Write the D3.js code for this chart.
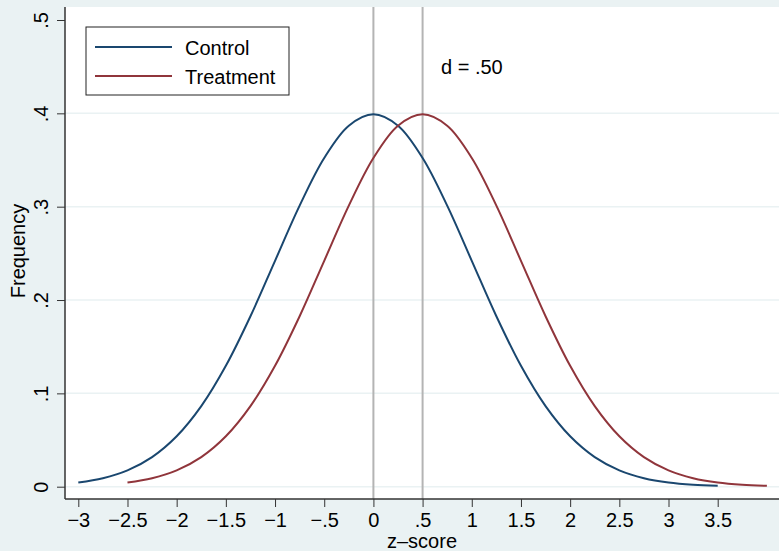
<!DOCTYPE html>
<html>
<head>
<meta charset="utf-8">
<script src="https://cdn.jsdelivr.net/npm/d3@7"></script>
<style>
  body { margin: 0; background: #eaf2f3; }
  svg { display: block; font-family: "Liberation Sans", Arial, sans-serif; }
</style>
</head>
<body>
<div id="chart"></div>
<script>
// values (normal curves, step .25)
var controlX = [-3, -2.75, -2.5, -2.25, -2, -1.75, -1.5, -1.25, -1, -0.75, -0.5, -0.25, 0,
  0.25, 0.5, 0.75, 1, 1.25, 1.5, 1.75, 2, 2.25, 2.5, 2.75, 3, 3.25, 3.5];
var controlY = [0.0044, 0.0091, 0.0175, 0.0317, 0.0540, 0.0863, 0.1295, 0.1826, 0.2420, 0.3011, 0.3521, 0.3867, 0.3989,
  0.3867, 0.3521, 0.3011, 0.2420, 0.1826, 0.1295, 0.0863, 0.0540, 0.0317, 0.0175, 0.0091, 0.0044, 0.0020, 0.0009];
var treatX = [-2.5, -2.25, -2, -1.75, -1.5, -1.25, -1, -0.75, -0.5, -0.25, 0, 0.25, 0.5,
  0.75, 1, 1.25, 1.5, 1.75, 2, 2.25, 2.5, 2.75, 3, 3.25, 3.5, 3.75, 4];
var treatY = [0.0044, 0.0091, 0.0175, 0.0317, 0.0540, 0.0863, 0.1295, 0.1826, 0.2420, 0.3011, 0.3521, 0.3867, 0.3989,
  0.3867, 0.3521, 0.3011, 0.2420, 0.1826, 0.1295, 0.0863, 0.0540, 0.0317, 0.0175, 0.0091, 0.0044, 0.0020, 0.0009];

var xTicks = [-3, -2.5, -2, -1.5, -1, -0.5, 0, 0.5, 1, 1.5, 2, 2.5, 3, 3.5];
var xTickLabels = ["\u22123", "\u22122.5", "\u22122", "\u22121.5", "\u22121", "\u2212.5", "0", ".5", "1", "1.5", "2", "2.5", "3", "3.5"];
var yTicks = [0, 0.1, 0.2, 0.3, 0.4, 0.5];
var yTickLabels = ["0", ".1", ".2", ".3", ".4", ".5"];
var refLines = [0, 0.5];
var seriesNames = ["Control", "Treatment"];
var effectLabel = "d = .50";

var width = 779, height = 551;
var colors = ["#1a476f", "#90353b"];
var fontSize = '20px';

var plotL = 65, plotR = 779, plotT = 7, plotB = 499;

var x = d3.scaleLinear().domain([-3, 3.5]).range([78.3, 717.7]);
var y = d3.scaleLinear().domain([0, 0.5]).range([486.7, 20]);

var svg = d3.select('#chart').append('svg')
  .attr('width', width)
  .attr('height', height);

svg.append('rect').attr('width', width).attr('height', height).attr('fill', '#eaf2f3');

// white plot region
svg.append('rect')
  .attr('x', plotL).attr('y', plotT)
  .attr('width', plotR - plotL).attr('height', plotB - plotT)
  .attr('fill', '#ffffff');

// gridlines (none at the top tick)
svg.selectAll('.grid')
  .data(yTicks.slice(0, 5))
  .enter().append('line')
  .attr('x1', plotL).attr('x2', plotR)
  .attr('y1', function (d) { return y(d); })
  .attr('y2', function (d) { return y(d); })
  .attr('stroke', '#eaf2f3')
  .attr('stroke-width', 1.5);

// reference lines
svg.selectAll('.ref')
  .data(refLines)
  .enter().append('line')
  .attr('x1', function (d) { return x(d); })
  .attr('x2', function (d) { return x(d); })
  .attr('y1', plotT).attr('y2', plotB)
  .attr('stroke', '#b4b4b4')
  .attr('stroke-width', 2);

// curves
var line = d3.line()
  .x(function (d) { return x(d[0]); })
  .y(function (d) { return y(d[1]); })
  .curve(d3.curveCatmullRom);

var series = [d3.zip(controlX, controlY), d3.zip(treatX, treatY)];
svg.selectAll('.curve')
  .data(series)
  .enter().append('path')
  .attr('d', line)
  .attr('fill', 'none')
  .attr('stroke', function (d, i) { return colors[i]; })
  .attr('stroke-width', 2);

// axes
var yAxis = d3.axisLeft(y)
  .tickValues(yTicks)
  .tickFormat(function (d, i) { return yTickLabels[i]; })
  .tickSize(8);

var gy = svg.append('g')
  .attr('transform', 'translate(' + plotL + ',0)')
  .call(yAxis);
gy.select('.domain').attr('d', 'M0,' + plotT + 'V' + plotB).attr('stroke', '#333').attr('stroke-width', 1.5);
gy.selectAll('.tick line').attr('stroke', '#333');
gy.selectAll('.tick text')
  .attr('transform', 'translate(-17,0) rotate(-90)')
  .attr('x', 0).attr('y', 0)
  .attr('dy', 0)
  .attr('text-anchor', 'middle')
  .style('font-size', fontSize)
  .attr('fill', '#000');

var xAxis = d3.axisBottom(x)
  .tickValues(xTicks)
  .tickFormat(function (d, i) { return xTickLabels[i]; })
  .tickSize(8);

var gx = svg.append('g')
  .attr('transform', 'translate(0,' + plotB + ')')
  .call(xAxis);
gx.select('.domain').attr('d', 'M' + plotL + ',0H' + plotR).attr('stroke', '#333').attr('stroke-width', 1.5);
gx.selectAll('.tick line').attr('stroke', '#333');
gx.selectAll('.tick text')
  .attr('y', 28).attr('dy', 0)
  .style('font-size', fontSize)
  .attr('fill', '#000');

// axis titles
svg.append('text')
  .attr('transform', 'translate(25,251) rotate(-90)')
  .attr('text-anchor', 'middle')
  .style('font-size', fontSize)
  .text('Frequency');

svg.append('text')
  .attr('x', (plotL + plotR) / 2)
  .attr('y', 548)
  .attr('text-anchor', 'middle')
  .style('font-size', fontSize)
  .text('z\u2013score');

// annotation
svg.append('text')
  .attr('x', 441).attr('y', 74)
  .style('font-size', fontSize)
  .text(effectLabel);

// legend
var legend = svg.append('g');
legend.append('rect')
  .attr('x', 86).attr('y', 27)
  .attr('width', 203).attr('height', 68)
  .attr('fill', '#fff')
  .attr('stroke', '#222')
  .attr('stroke-width', 1);

var items = legend.selectAll('.item')
  .data(seriesNames)
  .enter().append('g')
  .attr('transform', function (d, i) { return 'translate(0,' + (47 + i * 29) + ')'; });

items.append('line')
  .attr('x1', 95).attr('x2', 172)
  .attr('stroke', function (d, i) { return colors[i]; })
  .attr('stroke-width', 2);

items.append('text')
  .attr('x', 185)
  .attr('y', 8)
  .style('font-size', fontSize)
  .text(function (d) { return d; });
</script>
</body>
</html>
